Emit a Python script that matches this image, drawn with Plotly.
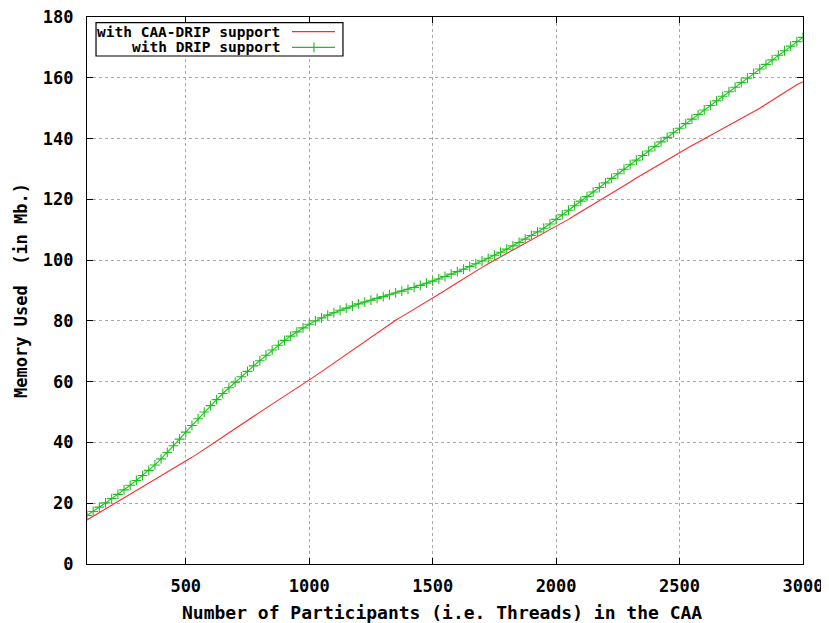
import plotly.graph_objects as go

# Data
participants = list(range(100, 3001, 25))

mem_caa_drip = [
    14.5, 15.7, 17.0, 18.2, 19.5, 20.6, 21.8, 22.9,
    24.1, 25.3, 26.6, 27.8, 29.0, 30.2, 31.5, 32.7,
    33.9, 35.1, 36.4, 37.7, 39.0, 40.4, 41.8, 43.2,
    44.6, 46.0, 47.4, 48.7, 50.0, 51.3, 52.6, 53.9,
    55.2, 56.5, 57.9, 59.2, 60.5, 61.9, 63.3, 64.7,
    66.1, 67.5, 68.9, 70.3, 71.7, 73.1, 74.5, 75.9,
    77.3, 78.9, 80.2, 81.4, 82.6, 83.8, 85.0, 86.3,
    87.5, 88.8, 90.0, 91.3, 92.6, 93.8, 95.1, 96.3,
    97.6, 98.8, 100.0, 101.1, 102.2, 103.3, 104.4, 105.5,
    106.6, 107.7, 108.8, 109.9, 111.0, 112.2, 113.4, 114.7,
    115.9, 117.1, 118.4, 119.6, 120.8, 122.0, 123.3, 124.5,
    125.7, 127.0, 128.2, 129.4, 130.6, 131.9, 133.1, 134.3,
    135.5, 136.6, 137.7, 138.8, 139.9, 141.0, 142.1, 143.2,
    144.3, 145.4, 146.5, 147.6, 148.8, 150.0, 151.3, 152.6,
    153.9, 155.2, 156.5, 157.7, 158.7,
]

mem_drip = [
    16.0, 17.3, 18.7, 20.1, 21.5, 22.9, 24.4, 25.9,
    27.5, 29.1, 30.8, 32.6, 34.6, 36.7, 38.9, 41.1,
    43.4, 45.6, 47.8, 50.0, 52.1, 54.1, 56.1, 58.0,
    59.8, 61.6, 63.4, 65.2, 66.9, 68.7, 70.4, 72.0,
    73.6, 75.0, 76.4, 77.7, 78.9, 80.0, 81.0, 81.9,
    82.7, 83.5, 84.2, 84.9, 85.6, 86.2, 86.8, 87.4,
    88.0, 88.6, 89.2, 89.8, 90.4, 91.0, 91.7, 92.4,
    93.1, 93.8, 94.6, 95.4, 96.2, 97.0, 97.9, 98.8,
    99.7, 100.6, 101.6, 102.6, 103.6, 104.7, 105.8, 106.9,
    108.1, 109.3, 110.5, 111.9, 113.4, 114.9, 116.4, 117.9,
    119.4, 120.9, 122.4, 123.9, 125.4, 126.9, 128.4, 129.9,
    131.4, 132.9, 134.4, 135.9, 137.4, 138.9, 140.4, 141.9,
    143.4, 144.9, 146.4, 147.9, 149.4, 150.9, 152.4, 153.9,
    155.4, 156.9, 158.4, 159.9, 161.4, 162.9, 164.4, 165.9,
    167.4, 168.9, 170.4, 171.9, 173.3,
]

x_tickvals = [500, 1000, 1500, 2000, 2500, 3000]
y_tickvals = [0, 20, 40, 60, 80, 100, 120, 140, 160, 180]

series_names = ["with CAA-DRIP support", "with DRIP support"]
x_title = "Number of Participants (i.e. Threads) in the CAA"
y_title = "Memory Used  (in Mb.)"

RED = "#ff2a2a"
GREEN = "#1fbf1f"
MONO = "DejaVu Sans Mono"

fig = go.Figure()
fig.add_trace(go.Scatter(
    x=participants, y=mem_caa_drip, mode="lines", name=series_names[0],
    line=dict(color=RED, width=1.1), showlegend=False,
))
fig.add_trace(go.Scatter(
    x=participants, y=mem_drip, mode="lines+markers", name=series_names[1],
    line=dict(color=GREEN, width=1.1),
    marker=dict(symbol="cross-thin", size=7, line=dict(color=GREEN, width=1.1)),
    showlegend=False,
))

axis_common = dict(
    showline=True, linecolor="black", linewidth=1.2, mirror="allticks",
    ticks="inside", ticklen=6, tickcolor="black", tickwidth=1,
    showgrid=True, gridcolor="#a8a8a8", griddash="dot", gridwidth=1,
    zeroline=False, automargin=False, ticklabeloverflow="allow",
    tickfont=dict(family=MONO, size=17, color="black", weight="bold"),
)

fig.update_xaxes(range=[100, 3000], tickvals=x_tickvals, ticklabelstandoff=6, **axis_common)
fig.update_yaxes(range=[0, 180], tickvals=y_tickvals, ticklabelstandoff=9, **axis_common)

# Axis titles
annotations = [
    dict(text=x_title, xref="paper", yref="paper", x=0.496, y=-0.089,
         xanchor="center", yanchor="middle", showarrow=False,
         font=dict(family=MONO, size=18, color="black", weight="bold")),
    dict(text=y_title, xref="paper", yref="paper", x=-0.093, y=0.50,
         xanchor="center", yanchor="middle", showarrow=False, textangle=-90,
         font=dict(family=MONO, size=17, color="black", weight="bold")),
]

# Gnuplot-style key (top-left, text right-aligned, sample on the right)
key_y = [0.9731, 0.9446]
for name, ky in zip(series_names, key_y):
    annotations.append(dict(
        text=name, xref="paper", yref="paper", x=0.2723, y=ky,
        xanchor="right", yanchor="middle", showarrow=False,
        font=dict(family=MONO, size=14.5, color="black", weight="bold"),
    ))

shapes = [
    dict(type="rect", xref="paper", yref="paper", x0=0.0126, x1=0.3575,
         y0=0.9287, y1=0.9896, line=dict(color="black", width=1.2),
         fillcolor="white", layer="above"),
    dict(type="line", xref="paper", yref="paper", x0=0.2863, x1=0.3464,
         y0=key_y[0], y1=key_y[0], line=dict(color=RED, width=1.2)),
    dict(type="line", xref="paper", yref="paper", x0=0.2863, x1=0.3464,
         y0=key_y[1], y1=key_y[1], line=dict(color=GREEN, width=1.2)),
    dict(type="line", xref="paper", yref="paper", x0=0.317, x1=0.317,
         y0=key_y[1] - 0.009, y1=key_y[1] + 0.009, line=dict(color=GREEN, width=1.2)),
]

# The page body has an 8px margin, so the figure is sized/offset to fit the window
fig.update_layout(
    width=821, height=615,
    margin=dict(l=79, r=26, t=9, b=59),
    paper_bgcolor="white", plot_bgcolor="white",
    annotations=annotations, shapes=shapes,
    showlegend=False,
)

fig.write_html("out.html")
